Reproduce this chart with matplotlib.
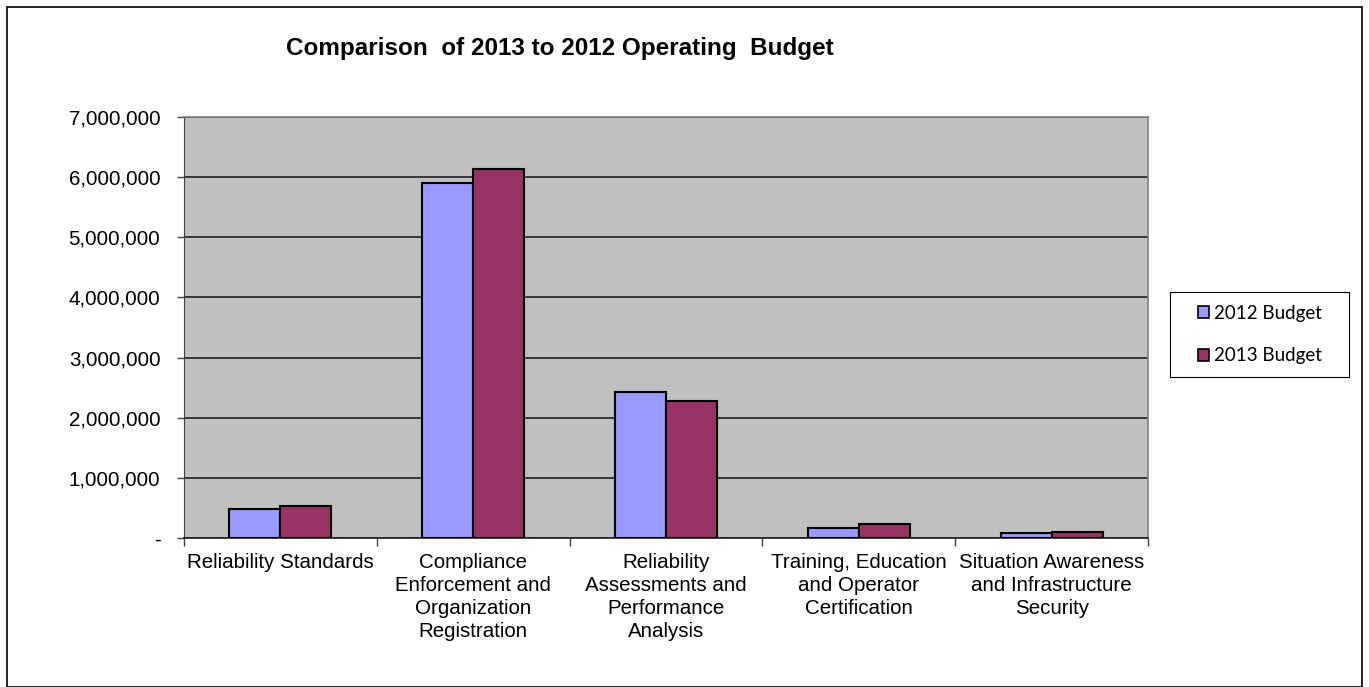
import matplotlib
matplotlib.use("Agg")
import matplotlib.pyplot as plt
from matplotlib.patches import Rectangle, Patch
from matplotlib.ticker import FuncFormatter, MultipleLocator
import numpy as np

categories = ["Reliability Standards",
              "Compliance\nEnforcement and\nOrganization\nRegistration",
              "Reliability\nAssessments and\nPerformance\nAnalysis",
              "Training, Education\nand Operator\nCertification",
              "Situation Awareness\nand Infrastructure\nSecurity"]
budget_2012 = [490000, 5900000, 2430000, 160000, 80000]
budget_2013 = [535000, 6130000, 2280000, 230000, 95000]
series_names = ["2012 Budget", "2013 Budget"]
colors = ["#9999FF", "#993366"]

plt.rcParams["font.family"] = ["Liberation Sans", "DejaVu Sans"]

W, H = 1369, 687
fig = plt.figure(figsize=(W / 100, H / 100), dpi=100)
ax = fig.add_axes([184 / W, 1 - 538 / H, (1148 - 184) / W, (538 - 117) / H])
ax.set_facecolor("#C0C0C0")

x = np.arange(len(categories))
w = 0.265
ax.bar(x - w / 2, budget_2012, w, color=colors[0], edgecolor="black", linewidth=1.5, zorder=3)
ax.bar(x + w / 2, budget_2013, w, color=colors[1], edgecolor="black", linewidth=1.5, zorder=3)

ax.set_xlim(-0.5, len(categories) - 0.5)
ax.set_ylim(0, 7000000)
ax.yaxis.set_major_locator(MultipleLocator(1000000))
ax.yaxis.set_major_formatter(FuncFormatter(lambda v, p: "-" if v == 0 else f"{v:,.0f}"))
ax.grid(axis="y", color="#202020", linewidth=1.2, zorder=1)

ax.set_xticks(x)
ax.set_xticklabels(categories, fontsize=14.8, linespacing=1.26)
ax.tick_params(axis="x", length=0, pad=11)
ax.set_xticks(np.arange(len(categories) + 1) - 0.5, minor=True)
ax.tick_params(axis="x", which="minor", length=6, width=1, color="#404040")
ax.tick_params(axis="y", labelsize=14.8, length=5, width=1, color="#404040", pad=12)

for s in ("top", "right"):
    ax.spines[s].set_color("#808080")
    ax.spines[s].set_linewidth(1.2)
ax.spines["left"].set_color("#404040")
ax.spines["bottom"].set_color("#202020")
ax.spines["bottom"].set_linewidth(1.2)

fig.text(560 / W, 1 - 48 / H, "Comparison  of 2013 to 2012 Operating  Budget",
         ha="center", va="center", fontsize=17.5, fontweight="bold")

# legend box drawn by hand (Excel-style wide padding), entries centred inside
lx0, ly0, lx1, ly1 = 1170, 292, 1349, 377
fig.patches.append(Rectangle((lx0 / W, 1 - ly1 / H), (lx1 - lx0) / W, (ly1 - ly0) / H,
                             transform=fig.transFigure, facecolor="white",
                             edgecolor="black", linewidth=0.8, zorder=5))
handles = [Patch(facecolor=c, edgecolor="black", linewidth=1.2) for c in colors]
leg = fig.legend(handles, series_names, loc="center",
                 bbox_to_anchor=((lx0 + lx1) / 2 / W, 1 - (ly0 + ly1) / 2 / H),
                 frameon=False, handlelength=0.6, handleheight=0.6,
                 handletextpad=0.25, labelspacing=1.35, borderaxespad=0,
                 prop={"family": "Lato", "size": 13.5})
leg.set_zorder(6)

fig.patches.append(Rectangle((7 / W, 0), (1362 - 7) / W, 1 - 7 / H, transform=fig.transFigure,
                             fill=False, edgecolor="black", linewidth=1.2))

fig.savefig("out.png", dpi=100)
